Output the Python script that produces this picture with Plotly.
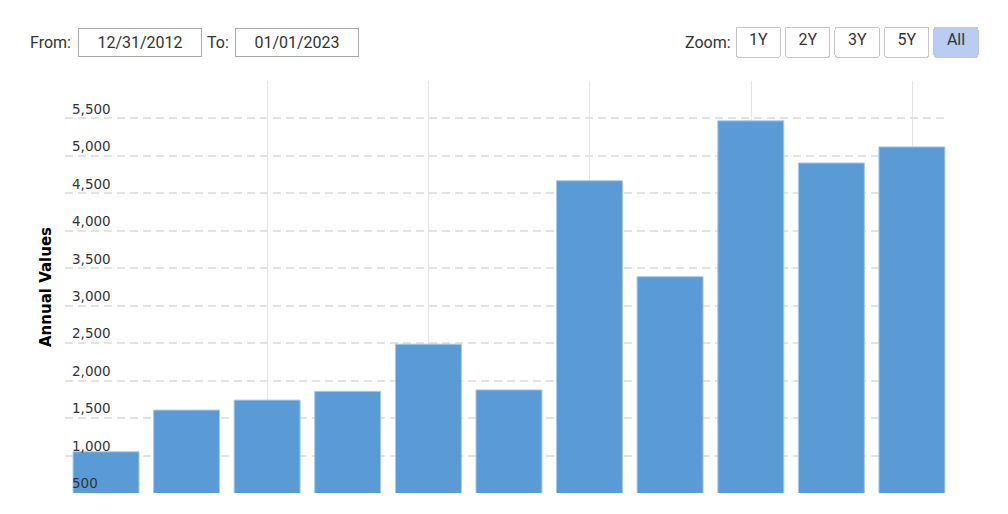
import pandas as pd
import plotly.graph_objects as go

# annual values, one bar per year-end
dates = ["2012-12-31", "2013-12-31", "2014-12-31", "2015-12-31", "2016-12-31",
         "2017-12-31", "2018-12-31", "2019-12-31", "2020-12-31", "2021-12-31",
         "2022-12-31"]
values = [1050, 1607, 1740, 1857, 2487, 1876, 4669, 3388, 5468, 4906, 5120]

y_ticks = [500, 1000, 1500, 2000, 2500, 3000, 3500, 4000, 4500, 5000, 5500, 6000]
y_labels = ["500", "1,000", "1,500", "2,000", "2,500", "3,000", "3,500",
            "4,000", "4,500", "5,000", "5,500", ""]
x_grid = ["2015-01-01", "2017-01-01", "2019-01-01", "2021-01-01", "2023-01-01"]
zoom_labels = ["1Y", "2Y", "3Y", "5Y", "All"]

date_from = "12/31/2012"
date_to = "01/01/2023"

# the page puts the figure 8px in from the window corner
OFF = 8
W, H = 1008 - OFF, 514 - OFF
L, R, T, B = 65 - OFF, 947 - OFF, 80.5 - OFF, 493 - OFF


def px(x):
    # window pixel -> paper x
    return (x - OFF - L) / (R - L)


def py(y):
    return (B - (y - OFF)) / (B - T)


def ms(d):
    return pd.Timestamp(d).value // 10**6


def btn_label(s):
    return "<span style='font-size:16px'>\u00a0\u00a0" + s + "\u00a0\u00a0</span>"


fig = go.Figure()
fig.add_trace(go.Bar(
    x=dates, y=values,
    width=299 * 24 * 3600 * 1000,
    marker=dict(color="#5b9bd5", line=dict(color="#a9c9ec", width=1)),
    hoverinfo="skip",
))

fig.update_layout(
    width=W, height=H,
    margin=dict(l=L, r=W - R, t=T, b=H - B),
    plot_bgcolor="white", paper_bgcolor="white",
    showlegend=False,
    font=dict(family="DejaVu Sans", size=13, color="#333333"),
)

buttons = [dict(count=n, label=btn_label(lab), step="year", stepmode="backward")
           for n, lab in zip([1, 2, 3, 5], zoom_labels[:4])]
buttons.append(dict(label=btn_label(zoom_labels[4]), step="all"))

fig.update_xaxes(
    type="date",
    autorange=True,
    autorangeoptions=dict(minallowed=ms("2012-06-28"), maxallowed=ms("2023-06-08")),
    tickvals=x_grid, showticklabels=False, ticks="",
    showgrid=True, gridcolor="#e6e6e6", gridwidth=1,
    showline=False, zeroline=False,
    rangeselector=dict(
        buttons=buttons,
        x=px(982), xanchor="right",
        y=py(56), yanchor="bottom",
        bgcolor="white", activecolor="#b9cdf4",
        bordercolor="#c8c8c8", borderwidth=1,
        font=dict(family="Roboto", size=21, color="#333333"),
    ),
)

fig.update_yaxes(
    range=[500, 6000],
    tickvals=y_ticks, ticktext=y_labels,
    ticklabelposition="inside top", ticks="", ticklabelstandoff=4,
    tickfont=dict(family="DejaVu Sans", size=13.5, color="#333333"),
    showgrid=True, gridcolor="#e3e3e3", gridwidth=1.5, griddash="8px,5px",
    showline=False, zeroline=False,
    title=dict(text="<b>Annual Values</b>", standoff=16,
               font=dict(family="DejaVu Sans", size=15, color="#000000")),
)

# From / To inputs and the Zoom label
ctl_font = dict(family="Roboto", size=16, color="#333333")
fig.add_annotation(text="From:", x=px(73), y=py(41.5), xref="paper", yref="paper",
                   xanchor="right", yanchor="middle", showarrow=False, font=ctl_font)
fig.add_annotation(text=date_from, x=px(140), y=py(41.5), xref="paper", yref="paper",
                   xanchor="center", yanchor="middle", showarrow=False, font=ctl_font,
                   width=120, height=25, borderpad=1, bordercolor="#aaaaaa", borderwidth=1)
fig.add_annotation(text="To:", x=px(231), y=py(41.5), xref="paper", yref="paper",
                   xanchor="right", yanchor="middle", showarrow=False, font=ctl_font)
fig.add_annotation(text=date_to, x=px(296.5), y=py(41.5), xref="paper", yref="paper",
                   xanchor="center", yanchor="middle", showarrow=False, font=ctl_font,
                   width=120, height=25, borderpad=1, bordercolor="#aaaaaa", borderwidth=1)
fig.add_annotation(text="Zoom:", x=px(733), y=py(42), xref="paper", yref="paper",
                   xanchor="right", yanchor="middle", showarrow=False, font=ctl_font)

fig.write_html("out.html")
